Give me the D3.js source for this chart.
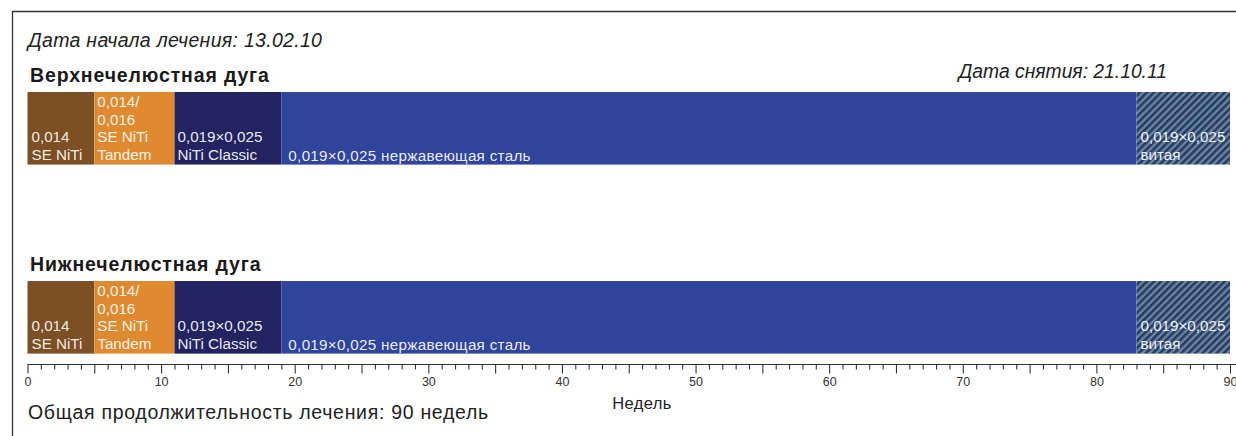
<!DOCTYPE html>
<html>
<head>
<meta charset="utf-8">
<script src="https://cdn.jsdelivr.net/npm/d3@7"></script>
<style>
  html, body { margin: 0; padding: 0; background: #fff; }
  svg { display: block; font-family: "Liberation Sans", Arial, Helvetica, sans-serif; }
</style>
</head>
<body>
<svg id="chart" width="1236" height="436"></svg>
<script>
// Treatment timeline: archwire sequence for each arch, in weeks
const arches = ["Верхнечелюстная дуга", "Нижнечелюстная дуга"];
const wireStart = [0, 5, 11, 19, 83];
const wireEnd = [5, 11, 19, 83, 90];
const wireLabels = [
  ["0,014", "SE NiTi"],
  ["0,014/", "0,016", "SE NiTi", "Tandem"],
  ["0,019×0,025", "NiTi Classic"],
  ["0,019×0,025 нержавеющая сталь"],
  ["0,019×0,025", "витая"]
];
const tickWeeks = d3.range(0, 91, 1);
const startDate = "Дата начала лечения: 13.02.10";
const endDate = "Дата снятия: 21.10.11";
const totalText = "Общая продолжительность лечения: 90 недель";
const axisTitle = "Недель";

// wire fills, in sequence order
const wireFills = ["#7c4f24", "#df8a2e", "#222462", "#2f449b", "url(#braided)"];
const labelPad = [4, 3, 3, 7, 4];

const W = 1236, H = 436;
const svg = d3.select("#chart");

const defs = svg.append("defs");
const pat = defs.append("pattern")
  .attr("id", "braided")
  .attr("patternUnits", "userSpaceOnUse")
  .attr("width", 5).attr("height", 5)
  .attr("patternTransform", "rotate(45)");
pat.append("rect").attr("width", 5).attr("height", 5).attr("fill", "#71839f");
pat.append("rect").attr("width", 2.6).attr("height", 5).attr("fill", "#203d63");

// frame
svg.append("path")
  .attr("d", "M12.5,436 V11.5 H1236")
  .attr("fill", "none").attr("stroke", "#333").attr("stroke-width", 1.3);

const x = d3.scaleLinear().domain([0, 90]).range([27.5, 1230]);
const y = d3.scaleBand().domain(arches).range([92, 353.6]).paddingInner(0.616).paddingOuter(0);

svg.append("text")
  .attr("x", 28).attr("y", 47)
  .attr("font-size", 19.5).attr("font-style", "italic").attr("fill", "#222")
  .attr("letter-spacing", 0.3)
  .text(startDate);

svg.append("text")
  .attr("x", 1167).attr("y", 77.5).attr("text-anchor", "end")
  .attr("font-size", 19.3).attr("font-style", "italic").attr("fill", "#222")
  .text(endDate);

const segs = wireStart.map((s, i) => ({ s, e: wireEnd[i], lines: wireLabels[i], fill: wireFills[i], pad: labelPad[i] }));

const rows = svg.selectAll("g.arch").data(arches).join("g")
  .attr("class", "arch")
  .attr("transform", d => `translate(0,${y(d)})`);

rows.append("text")
  .attr("x", 30).attr("y", -10)
  .attr("font-size", 19.5).attr("font-weight", "bold").attr("fill", "#1a1a1a")
  .attr("letter-spacing", 0.85)
  .text(d => d);

const seg = rows.selectAll("g.seg").data(segs).join("g").attr("class", "seg");

seg.append("rect")
  .attr("x", d => x(d.s))
  .attr("y", 0)
  .attr("width", d => x(d.e) - x(d.s))
  .attr("height", y.bandwidth())
  .attr("fill", d => d.fill);

const lineH = 17.6;
seg.append("text")
  .attr("fill", "#fff")
  .attr("font-size", 15.2)
  .attr("fill-opacity", 0.92)
  .each(function (d) {
    const t = d3.select(this);
    const n = d.lines.length;
    const lastY = y.bandwidth() - (n === 1 ? 3.5 : 4.5);
    d.lines.forEach((ln, k) => {
      t.append("tspan")
        .attr("x", x(d.s) + d.pad)
        .attr("y", lastY - (n - 1 - k) * lineH)
        .attr("letter-spacing", n === 1 ? 0.3 : 0)
        .text(ln);
    });
  });

// week axis
const axisY = 364.5;
const axis = d3.axisBottom(x)
  .tickValues(tickWeeks)
  .tickSizeOuter(0)
  .tickPadding(3)
  .tickFormat(d => d % 10 === 0 ? d : "");

const gAxis = svg.append("g")
  .attr("transform", `translate(0,${axisY})`)
  .call(axis);
gAxis.select(".domain").attr("stroke", "#333").attr("stroke-width", 1.2)
  .attr("d", `M${x(0)},0H${W}`);
gAxis.selectAll(".tick line")
  .attr("stroke", "#333").attr("stroke-width", 1.1)
  .attr("y2", d => d % 5 === 0 ? 9 : 5);
gAxis.selectAll(".tick text")
  .attr("y", 12.5)
  .attr("font-size", 12.5)
  .attr("fill", "#333")
  .attr("font-family", "'Liberation Sans', Arial, sans-serif");

svg.append("text")
  .attr("x", 642).attr("y", 408.5).attr("text-anchor", "middle")
  .attr("font-size", 16.5).attr("fill", "#222")
  .attr("letter-spacing", 0.4)
  .text(axisTitle);

svg.append("text")
  .attr("x", 28).attr("y", 419)
  .attr("font-size", 19.5).attr("fill", "#222")
  .attr("letter-spacing", 0.7)
  .text(totalText);
</script>
</body>
</html>
